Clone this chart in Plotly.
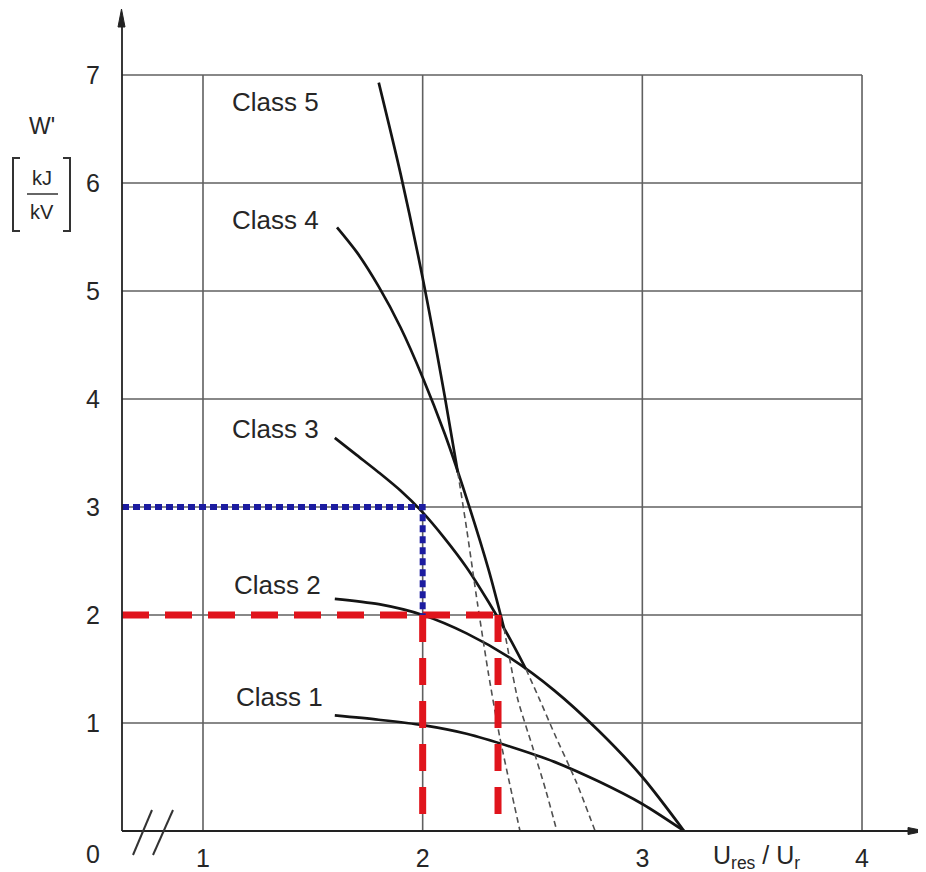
import plotly.graph_objects as go

PAGE_W, PAGE_H = 926, 872
OFF = 8  # default body margin of the page holding the figure
W, H = PAGE_W - OFF, PAGE_H - OFF

# axis geometry (pixel calibration of the reference, page pixels)
PX_X1, PX_PER_X = 203.0, 219.67
PX_Y0, PX_PER_Y = 831.0, 108.0


def dx(p):
    return 1 + (p - PX_X1) / PX_PER_X


def dy(p):
    return (PX_Y0 - p) / PX_PER_Y


def px(p):
    return (p - OFF) / W


def py(p):
    return 1 - (p - OFF) / H


X_RANGE = [dx(OFF), dx(PAGE_W)]
Y_RANGE = [dy(PAGE_H), dy(OFF)]
X_MIN = dx(122)  # left edge of the grid / y-axis position

# ---------------- data ----------------
x_ticks = [1, 2, 3, 4]
y_ticks = [1, 2, 3, 4, 5, 6, 7]

class_labels = ["Class 1", "Class 2", "Class 3", "Class 4", "Class 5"]
label_x = [1.35, 1.34, 1.33, 1.33, 1.33]
label_y = [1.24, 2.28, 3.72, 5.66, 6.75]

c1_x = [1.60, 1.80, 2.00, 2.20, 2.40, 2.60, 2.80, 3.00, 3.19]
c1_y = [1.07, 1.03, 0.98, 0.90, 0.78, 0.64, 0.46, 0.25, 0.00]

c2_x = [1.60, 1.80, 2.00, 2.20, 2.40, 2.60, 2.80, 3.00, 3.19]
c2_y = [2.15, 2.10, 2.00, 1.83, 1.60, 1.30, 0.93, 0.50, 0.00]

c3_x = [1.60, 1.70, 1.80, 1.90, 2.00, 2.10, 2.20, 2.30, 2.40, 2.47]
c3_y = [3.64, 3.48, 3.32, 3.15, 2.95, 2.71, 2.44, 2.12, 1.77, 1.50]
c3_dash_x = [2.47, 2.534, 2.60, 2.70, 2.785]
c3_dash_y = [1.50, 1.21, 0.90, 0.45, 0.00]

c4_x = [1.61, 1.70, 1.80, 1.90, 2.00, 2.10, 2.20, 2.30, 2.37]
c4_y = [5.59, 5.36, 5.04, 4.66, 4.20, 3.68, 3.08, 2.42, 1.88]
c4_dash_x = [2.37, 2.40, 2.434, 2.50, 2.56, 2.611]
c4_dash_y = [1.88, 1.55, 1.21, 0.78, 0.38, 0.00]

c5_x = [1.80, 1.90, 2.00, 2.10, 2.16]
c5_y = [6.93, 6.08, 5.12, 4.03, 3.32]
c5_dash_x = [2.16, 2.20, 2.25, 2.30, 2.35, 2.40, 2.443]
c5_dash_y = [3.32, 2.80, 2.10, 1.45, 0.88, 0.40, 0.00]

# example read-off lines
red_h_x = [X_MIN, 2.343]
red_h_y = [2.0, 2.0]
red_v1_x = [2.0, 2.0]
red_v1_y = [2.0, 0.0]
red_v2_x = [2.343, 2.343]
red_v2_y = [2.0, 0.0]
blue_x = [X_MIN, 2.0, 2.0]
blue_y = [3.0, 3.0, 2.0]

# ---------------- figure ----------------
fig = go.Figure()

CURVE = dict(color="#141414", width=2.7)
DASH = dict(color="#505050", width=1.6, dash="6px,4px")

for xs, ys in [(c1_x, c1_y), (c2_x, c2_y), (c3_x, c3_y), (c4_x, c4_y), (c5_x, c5_y)]:
    fig.add_trace(go.Scatter(x=xs, y=ys, mode="lines", line=dict(**CURVE, shape="spline", smoothing=0.8),
                             showlegend=False, hoverinfo="skip", cliponaxis=False))
for xs, ys in [(c3_dash_x, c3_dash_y), (c4_dash_x, c4_dash_y), (c5_dash_x, c5_dash_y)]:
    fig.add_trace(go.Scatter(x=xs, y=ys, mode="lines", line=dict(**DASH, shape="spline", smoothing=0.6),
                             showlegend=False, hoverinfo="skip", cliponaxis=False))

RED = dict(color="#e0141c", width=7, dash="27px,16px")
for xs, ys in [(red_h_x, red_h_y), (red_v1_x, red_v1_y), (red_v2_x, red_v2_y)]:
    fig.add_trace(go.Scatter(x=xs, y=ys, mode="lines", line=RED, showlegend=False, hoverinfo="skip"))
fig.add_trace(go.Scatter(x=blue_x, y=blue_y, mode="lines",
                         line=dict(color="#1c1ca0", width=6, dash="7px,4px"),
                         showlegend=False, hoverinfo="skip"))

shapes = []
GRID = dict(color="#606060", width=1.6)
for yv in y_ticks:
    shapes.append(dict(type="line", x0=X_MIN, x1=4, y0=yv, y1=yv, line=GRID, layer="below"))
for xv in x_ticks:
    shapes.append(dict(type="line", x0=xv, x1=xv, y0=0, y1=7, line=GRID, layer="below"))

AX = dict(color="#222222", width=1.8)
# axes with arrows
shapes.append(dict(type="line", x0=X_MIN, x1=X_MIN, y0=0, y1=dy(22), line=AX))
shapes.append(dict(type="line", x0=X_MIN, x1=dx(912), y0=0, y1=0, line=AX))
shapes.append(dict(type="path",
                   path=f"M {dx(121.5)},{dy(9)} L {dx(125)},{dy(27)} L {dx(118)},{dy(27)} Z",
                   fillcolor="#222222", line=dict(color="#222222", width=1)))
shapes.append(dict(type="path",
                   path=f"M {dx(925)},{dy(831)} L {dx(908)},{dy(827.5)} L {dx(908)},{dy(834.5)} Z",
                   fillcolor="#222222", line=dict(color="#222222", width=1)))
# axis break marks
BRK = dict(color="#333333", width=2)
shapes.append(dict(type="line", x0=dx(133), y0=dy(855), x1=dx(152), y1=dy(810), line=BRK))
shapes.append(dict(type="line", x0=dx(153), y0=dy(855), x1=dx(173), y1=dy(810), line=BRK))

# unit bracket [kJ / kV]
BR = dict(color="#333333", width=2)
shapes += [
    dict(type="path", xref="paper", yref="paper",
         path=f"M {px(20)},{py(158)} L {px(13)},{py(158)} L {px(13)},{py(231)} L {px(20)},{py(231)}", line=BR),
    dict(type="path", xref="paper", yref="paper",
         path=f"M {px(63)},{py(158)} L {px(70)},{py(158)} L {px(70)},{py(231)} L {px(63)},{py(231)}", line=BR),
    dict(type="line", xref="paper", yref="paper", x0=px(27), x1=px(58), y0=py(194), y1=py(194),
         line=dict(color="#333333", width=1.5)),
]

FAM = "Liberation Sans, Arial, sans-serif"
FONT = dict(family=FAM, size=25, color="#262626")
LABEL_FONT = dict(family=FAM, size=26, color="#262626")
annotations = []
for t, lx, ly in zip(class_labels, label_x, label_y):
    annotations.append(dict(x=lx, y=ly, text=t, showarrow=False, font=LABEL_FONT,
                            xanchor="center", yanchor="middle"))


def ptext(x, y, text, size, anchor="center"):
    return dict(x=px(x), y=py(y), xref="paper", yref="paper", text=text, showarrow=False,
                xanchor=anchor, yanchor="middle", font=dict(family=FAM, size=size, color="#262626"))


annotations += [
    ptext(93, 854, "0", 25),
    ptext(711, 857, "U<sub>res</sub> / U<sub>r</sub>", 25, anchor="left"),
    ptext(42, 126, "W'", 23),
    ptext(42, 178, "kJ", 20),
    ptext(42, 212, "kV", 20),
]

fig.update_layout(
    width=W, height=H, autosize=False,
    margin=dict(l=0, r=0, t=0, b=0, pad=0),
    paper_bgcolor="white", plot_bgcolor="white",
    showlegend=False,
    shapes=shapes, annotations=annotations,
    xaxis=dict(range=X_RANGE, showgrid=False, zeroline=False, showline=False,
               tickmode="array", tickvals=x_ticks, ticktext=[str(v) for v in x_ticks],
               ticks="", tickfont=FONT, anchor="free", position=(PAGE_H - PX_Y0) / H,
               ticklabelstandoff=10, fixedrange=True),
    yaxis=dict(range=Y_RANGE, showgrid=False, zeroline=False, showline=False,
               tickmode="array", tickvals=y_ticks, ticktext=[str(v) for v in y_ticks],
               ticks="", tickfont=FONT, anchor="free", position=(122 - OFF) / W,
               ticklabelstandoff=22, fixedrange=True),
)

fig.write_html("out.html")
